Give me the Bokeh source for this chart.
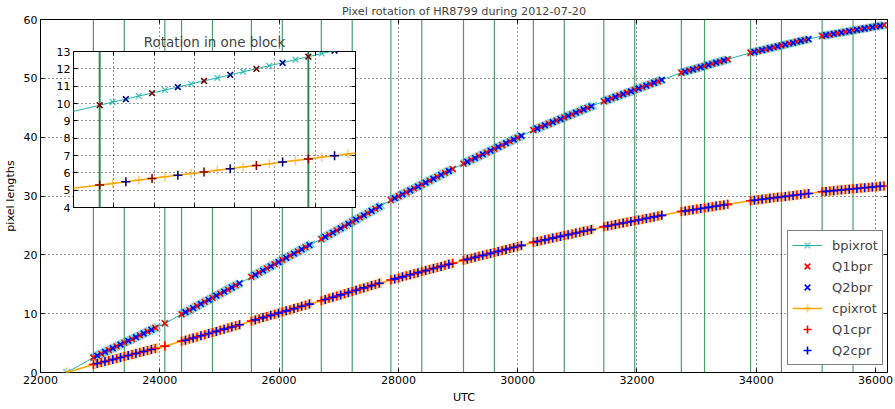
import numpy as np
from bokeh.plotting import figure
from bokeh.models import (Range1d, LinearAxis, SingleIntervalTicker, BasicTickFormatter,
                          Span, Legend, LegendItem, GridBox, Column)
from bokeh.embed import file_html
from bokeh.resources import INLINE

# UTC (seconds) of every frame: first frame, eleven blocks and one single frame
utc = [
    22440,
    22887, 22919, 22952, 22984, 23017, 23049, 23081, 23114, 23146, 23179, 23211, 23243,
    23276, 23308, 23341, 23373, 23405, 23438, 23470, 23503, 23535, 23567, 23600, 23632,
    23665, 23697, 23729, 23762, 23794, 23827, 23859, 23891, 23924, 23956,
    24085,
    24365, 24397, 24430, 24462, 24495, 24527, 24559, 24592, 24624, 24657, 24689, 24721,
    24754, 24786, 24819, 24851, 24883, 24916, 24948, 24981, 25013, 25045, 25078, 25110,
    25143, 25175, 25207, 25240, 25272, 25305, 25337,
    25536, 25568, 25601, 25633, 25666, 25698, 25730, 25763, 25795, 25828, 25860, 25892,
    25925, 25957, 25990, 26022, 26054, 26087, 26119, 26152, 26184, 26216, 26249, 26281,
    26314, 26346, 26378, 26411, 26443, 26476, 26508, 26540,
    26708, 26740, 26773, 26805, 26838, 26870, 26902, 26935, 26967, 27000, 27032, 27064,
    27097, 27129, 27162, 27194, 27226, 27259, 27291, 27324, 27356, 27388, 27421, 27453,
    27486, 27518, 27550, 27583, 27615, 27648, 27680, 27712,
    27874, 27906, 27939, 27971, 28004, 28036, 28068, 28101, 28133, 28166, 28198, 28230,
    28263, 28295, 28328, 28360, 28392, 28425, 28457, 28490, 28522, 28554, 28587, 28619,
    28652, 28684, 28716, 28749, 28781, 28814, 28846, 28878, 28911,
    29091, 29123, 29156, 29188, 29221, 29253, 29285, 29318, 29350, 29383, 29415, 29447,
    29480, 29512, 29545, 29577, 29609, 29642, 29674, 29707, 29739, 29771, 29804, 29836,
    29869, 29901, 29933, 29966, 29998, 30031, 30063,
    30263, 30295, 30328, 30360, 30393, 30425, 30457, 30490, 30522, 30555, 30587, 30619,
    30652, 30684, 30717, 30749, 30781, 30814, 30846, 30879, 30911, 30943, 30976, 31008,
    31041, 31073, 31105, 31138, 31170, 31203, 31235, 31267,
    31444, 31476, 31509, 31541, 31574, 31606, 31638, 31671, 31703, 31736, 31768, 31800,
    31833, 31865, 31898, 31930, 31962, 31995, 32027, 32060, 32092, 32124, 32157, 32189,
    32222, 32254, 32286, 32319, 32351, 32384, 32416,
    32744, 32776, 32809, 32841, 32874, 32906, 32938, 32971, 33003, 33036, 33068, 33100,
    33133, 33165, 33198, 33230, 33262, 33295, 33327, 33360, 33392, 33424, 33457, 33489,
    33522,
    33904, 33936, 33969, 34001, 34034, 34066, 34098, 34131, 34163, 34196, 34228, 34260,
    34293, 34325, 34358, 34390, 34422, 34455, 34487, 34520, 34552, 34584, 34617, 34649,
    34682, 34714, 34746, 34779, 34811, 34844, 34876,
    35104, 35136, 35169, 35201, 35234, 35266, 35298, 35331, 35363, 35396, 35428, 35460,
    35493, 35525, 35558, 35590, 35622, 35655, 35687, 35720, 35752, 35784, 35817, 35849,
    35882, 35914, 35946, 35979, 36011, 36044, 36076, 36108, 36141,
]

# rotation of the b channel, in pixel lengths
bpixrot = [
    0.0,
    2.55, 2.71, 2.86, 3.02, 3.18, 3.34, 3.49, 3.65, 3.81, 3.96, 4.12, 4.28,
    4.43, 4.59, 4.75, 4.91, 5.06, 5.22, 5.38, 5.53, 5.69, 5.85, 6.00, 6.16,
    6.32, 6.48, 6.63, 6.79, 6.95, 7.10, 7.26, 7.42, 7.57, 7.73,
    8.35,
    9.90, 10.08, 10.25, 10.43, 10.60, 10.78, 10.95, 11.13, 11.30, 11.48, 11.65, 11.83,
    12.00, 12.18, 12.35, 12.53, 12.70, 12.88, 13.05, 13.23, 13.40, 13.58, 13.75, 13.93,
    14.10, 14.28, 14.45, 14.63, 14.80, 14.98, 15.15,
    16.25, 16.43, 16.61, 16.79, 16.97, 17.15, 17.33, 17.51, 17.69, 17.87, 18.05, 18.23,
    18.41, 18.59, 18.77, 18.95, 19.13, 19.31, 19.49, 19.67, 19.85, 20.03, 20.21, 20.39,
    20.57, 20.75, 20.93, 21.11, 21.29, 21.47, 21.65, 21.83,
    22.67, 22.85, 23.04, 23.22, 23.41, 23.59, 23.77, 23.96, 24.14, 24.33, 24.51, 24.69,
    24.88, 25.06, 25.25, 25.43, 25.61, 25.80, 25.98, 26.17, 26.35, 26.53, 26.72, 26.90,
    27.09, 27.27, 27.45, 27.64, 27.82, 28.01, 28.19, 28.37,
    29.30, 29.47, 29.63, 29.80, 29.96, 30.13, 30.29, 30.46, 30.62, 30.79, 30.95, 31.12,
    31.28, 31.45, 31.61, 31.78, 31.94, 32.11, 32.27, 32.44, 32.60, 32.77, 32.93, 33.10,
    33.26, 33.43, 33.59, 33.76, 33.92, 34.09, 34.25, 34.42, 34.58,
    35.50, 35.66, 35.82, 35.97, 36.13, 36.29, 36.45, 36.60, 36.76, 36.92, 37.08, 37.23,
    37.39, 37.55, 37.71, 37.86, 38.02, 38.18, 38.34, 38.49, 38.65, 38.81, 38.97, 39.12,
    39.28, 39.44, 39.60, 39.76, 39.91, 40.07, 40.23,
    41.20, 41.33, 41.47, 41.60, 41.74, 41.87, 42.01, 42.14, 42.28, 42.41, 42.55, 42.68,
    42.81, 42.95, 43.08, 43.22, 43.35, 43.49, 43.62, 43.76, 43.89, 44.02, 44.16, 44.29,
    44.43, 44.56, 44.70, 44.83, 44.97, 45.10, 45.24, 45.37,
    46.10, 46.22, 46.34, 46.46, 46.58, 46.71, 46.83, 46.95, 47.07, 47.19, 47.31, 47.43,
    47.55, 47.67, 47.79, 47.92, 48.04, 48.16, 48.28, 48.40, 48.52, 48.64, 48.76, 48.88,
    49.00, 49.13, 49.25, 49.37, 49.49, 49.61, 49.73,
    50.95, 51.05, 51.14, 51.24, 51.33, 51.43, 51.52, 51.62, 51.71, 51.81, 51.90, 52.00,
    52.09, 52.19, 52.28, 52.38, 52.47, 52.57, 52.66, 52.76, 52.85, 52.95, 53.04, 53.14,
    53.23,
    54.35, 54.43, 54.50, 54.58, 54.66, 54.74, 54.81, 54.89, 54.97, 55.04, 55.12, 55.20,
    55.27, 55.35, 55.43, 55.51, 55.58, 55.66, 55.74, 55.81, 55.89, 55.97, 56.04, 56.12,
    56.20, 56.28, 56.35, 56.43, 56.51, 56.58, 56.66,
    57.20, 57.26, 57.32, 57.37, 57.43, 57.49, 57.55, 57.60, 57.66, 57.72, 57.78, 57.83,
    57.89, 57.95, 58.01, 58.07, 58.12, 58.18, 58.24, 58.30, 58.35, 58.41, 58.47, 58.53,
    58.58, 58.64, 58.70, 58.76, 58.82, 58.87, 58.93, 58.99, 59.05,
]

# rotation of the c channel, in pixel lengths
cpixrot = [
    0.0,
    1.37, 1.45, 1.54, 1.62, 1.71, 1.79, 1.88, 1.96, 2.04, 2.13, 2.21, 2.30,
    2.38, 2.47, 2.55, 2.63, 2.72, 2.80, 2.89, 2.97, 3.06, 3.14, 3.22, 3.31,
    3.39, 3.48, 3.56, 3.65, 3.73, 3.81, 3.90, 3.98, 4.07, 4.15,
    4.49,
    5.30, 5.39, 5.49, 5.58, 5.68, 5.77, 5.86, 5.96, 6.05, 6.15, 6.24, 6.33,
    6.43, 6.52, 6.62, 6.71, 6.80, 6.90, 6.99, 7.09, 7.18, 7.27, 7.37, 7.46,
    7.56, 7.65, 7.74, 7.84, 7.93, 8.03, 8.12,
    8.75, 8.85, 8.94, 9.04, 9.13, 9.23, 9.33, 9.42, 9.52, 9.61, 9.71, 9.81,
    9.90, 10.00, 10.09, 10.19, 10.29, 10.38, 10.48, 10.57, 10.67, 10.77, 10.86, 10.96,
    11.05, 11.15, 11.25, 11.34, 11.44, 11.53, 11.63, 11.73,
    12.20, 12.30, 12.40, 12.50, 12.60, 12.70, 12.79, 12.89, 12.99, 13.09, 13.19, 13.29,
    13.39, 13.49, 13.59, 13.69, 13.78, 13.88, 13.98, 14.08, 14.18, 14.28, 14.38, 14.48,
    14.58, 14.68, 14.77, 14.87, 14.97, 15.07, 15.17, 15.27,
    15.73, 15.82, 15.91, 16.00, 16.08, 16.17, 16.26, 16.35, 16.44, 16.53, 16.62, 16.70,
    16.79, 16.88, 16.97, 17.06, 17.15, 17.24, 17.32, 17.41, 17.50, 17.59, 17.68, 17.77,
    17.86, 17.94, 18.03, 18.12, 18.21, 18.30, 18.39, 18.48, 18.57,
    19.06, 19.14, 19.23, 19.31, 19.40, 19.48, 19.57, 19.65, 19.74, 19.82, 19.91, 19.99,
    20.08, 20.16, 20.24, 20.33, 20.41, 20.50, 20.58, 20.67, 20.75, 20.84, 20.92, 21.01,
    21.09, 21.18, 21.26, 21.34, 21.43, 21.51, 21.60,
    22.12, 22.19, 22.26, 22.34, 22.41, 22.48, 22.55, 22.63, 22.70, 22.77, 22.84, 22.91,
    22.99, 23.06, 23.13, 23.20, 23.28, 23.35, 23.42, 23.49, 23.56, 23.64, 23.71, 23.78,
    23.85, 23.93, 24.00, 24.07, 24.14, 24.21, 24.29, 24.36,
    24.76, 24.83, 24.89, 24.96, 25.02, 25.09, 25.15, 25.22, 25.28, 25.35, 25.41, 25.48,
    25.54, 25.61, 25.67, 25.74, 25.80, 25.87, 25.93, 26.00, 26.06, 26.13, 26.19, 26.26,
    26.32, 26.39, 26.45, 26.52, 26.58, 26.65, 26.71,
    27.36, 27.41, 27.46, 27.51, 27.56, 27.62, 27.67, 27.72, 27.77, 27.82, 27.87, 27.92,
    27.97, 28.02, 28.07, 28.13, 28.18, 28.23, 28.28, 28.33, 28.38, 28.43, 28.48, 28.53,
    28.58,
    29.19, 29.23, 29.27, 29.31, 29.36, 29.40, 29.44, 29.48, 29.52, 29.56, 29.60, 29.64,
    29.69, 29.73, 29.77, 29.81, 29.85, 29.89, 29.93, 29.97, 30.02, 30.06, 30.10, 30.14,
    30.18, 30.22, 30.26, 30.31, 30.35, 30.39, 30.43,
    30.72, 30.75, 30.78, 30.81, 30.84, 30.88, 30.91, 30.94, 30.97, 31.00, 31.03, 31.06,
    31.09, 31.12, 31.15, 31.19, 31.22, 31.25, 31.28, 31.31, 31.34, 31.37, 31.40, 31.43,
    31.46, 31.50, 31.53, 31.56, 31.59, 31.62, 31.65, 31.68, 31.71,
]

# quadrant of each frame: 1 = Q1, 2 = Q2, 0 = neither
quadrant = [
    0,
    1, 0, 2, 0, 1, 0, 2, 0, 1, 0, 2, 0,
    1, 0, 2, 0, 1, 0, 2, 0, 1, 0, 2, 0,
    1, 0, 2, 0, 1, 0, 2, 0, 1, 0,
    1,
    1, 0, 2, 0, 1, 0, 2, 0, 1, 0, 2, 0,
    1, 0, 2, 0, 1, 0, 2, 0, 1, 0, 2, 0,
    1, 0, 2, 0, 1, 0, 2,
    1, 0, 2, 0, 1, 0, 2, 0, 1, 0, 2, 0,
    1, 0, 2, 0, 1, 0, 2, 0, 1, 0, 2, 0,
    1, 0, 2, 0, 1, 0, 2, 0,
    1, 0, 2, 0, 1, 0, 2, 0, 1, 0, 2, 0,
    1, 0, 2, 0, 1, 0, 2, 0, 1, 0, 2, 0,
    1, 0, 2, 0, 1, 0, 2, 0,
    1, 0, 2, 0, 1, 0, 2, 0, 1, 0, 2, 0,
    1, 0, 2, 0, 1, 0, 2, 0, 1, 0, 2, 0,
    1, 0, 2, 0, 1, 0, 2, 0, 1,
    1, 0, 2, 0, 1, 0, 2, 0, 1, 0, 2, 0,
    1, 0, 2, 0, 1, 0, 2, 0, 1, 0, 2, 0,
    1, 0, 2, 0, 1, 0, 2,
    1, 0, 2, 0, 1, 0, 2, 0, 1, 0, 2, 0,
    1, 0, 2, 0, 1, 0, 2, 0, 1, 0, 2, 0,
    1, 0, 2, 0, 1, 0, 2, 0,
    1, 0, 2, 0, 1, 0, 2, 0, 1, 0, 2, 0,
    1, 0, 2, 0, 1, 0, 2, 0, 1, 0, 2, 0,
    1, 0, 2, 0, 1, 0, 2,
    1, 0, 2, 0, 1, 0, 2, 0, 1, 0, 2, 0,
    1, 0, 2, 0, 1, 0, 2, 0, 1, 0, 2, 0,
    1,
    1, 0, 2, 0, 1, 0, 2, 0, 1, 0, 2, 0,
    1, 0, 2, 0, 1, 0, 2, 0, 1, 0, 2, 0,
    1, 0, 2, 0, 1, 0, 2,
    1, 0, 2, 0, 1, 0, 2, 0, 1, 0, 2, 0,
    1, 0, 2, 0, 1, 0, 2, 0, 1, 0, 2, 0,
    1, 0, 2, 0, 1, 0, 2, 0, 1,
]

# UTC of the block markers (vertical lines)
block_marks = [22887, 23405, 24085, 24365, 24883, 25536, 26054, 26708, 27226, 27874, 28392,
               29091, 29609, 30263, 30781, 31444, 31962, 32744, 33133, 33904, 34422, 35104,
               35622]

FONT = "DejaVu Sans"
TEAL = "#20b2aa"
ORANGE = "#ffa500"
GREEN = "#2e8b57"
W, H = 895, 409

t = np.asarray(utc, dtype=float)
b = np.asarray(bpixrot, dtype=float)
c = np.asarray(cpixrot, dtype=float)
q = np.asarray(quadrant)
m1 = q == 1
m2 = q == 2


def hide_labels(ax):
    ax.major_label_text_font_size = "1px"
    ax.major_label_text_color = None
    ax.major_label_standoff = 0


def frame_axes(fig, x_interval, y_interval, x_labels=True):
    """Boxed axes with inward ticks on all four sides and a dotted grid."""
    xt = SingleIntervalTicker(interval=x_interval, num_minor_ticks=0)
    yt = SingleIntervalTicker(interval=y_interval, num_minor_ticks=0)
    for ax, tk in ((fig.xaxis[0], xt), (fig.yaxis[0], yt)):
        ax.ticker = tk
        ax.formatter = BasicTickFormatter(use_scientific=False)
        ax.axis_line_color = None
        ax.major_tick_in = 4
        ax.major_tick_out = 0
        ax.major_tick_line_color = "black"
        ax.minor_tick_line_color = None
        ax.major_label_text_font = FONT
        ax.major_label_text_font_size = "11px"
        ax.major_label_text_color = "black"
        ax.major_label_standoff = 3
        ax.axis_label_text_font = FONT
        ax.axis_label_text_font_style = "normal"
        ax.axis_label_text_font_size = "11.2px"
        ax.axis_label_text_color = "black"
        ax.axis_label_standoff = 4
    if not x_labels:
        hide_labels(fig.xaxis[0])
    for loc, tk in (("above", xt), ("right", yt)):
        side = LinearAxis(ticker=tk, major_tick_in=4, major_tick_out=0, axis_line_color=None,
                          minor_tick_line_color=None)
        hide_labels(side)
        fig.add_layout(side, loc)
    fig.xgrid.ticker = xt
    fig.ygrid.ticker = yt
    fig.grid.grid_line_color = "black"
    fig.grid.grid_line_dash = "1 3"
    fig.grid.grid_line_alpha = 0.85
    fig.outline_line_color = "black"
    fig.outline_line_alpha = 1.0
    fig.outline_line_width = 1


# ---------------- main plot ----------------
p = figure(width=W, height=H, x_range=Range1d(22000, 36200), y_range=Range1d(0, 60),
           output_backend="svg", toolbar_location=None,
           min_border_left=38, min_border_right=8, min_border_top=19, min_border_bottom=37,
           x_axis_label="UTC", y_axis_label="pixel lengths")
p.title.text = "Pixel rotation of HR8799 during 2012-07-20"
p.title.align = "center"
p.title.text_font = FONT
p.title.text_font_size = "11.2px"
p.title.text_font_style = "normal"
p.title.standoff = 4
p.background_fill_color = "white"
p.border_fill_color = "white"
frame_axes(p, 2000, 10)

for x in block_marks:
    p.add_layout(Span(location=x, dimension="height", line_color=GREEN,
                      line_width=1.2, line_alpha=0.85, level="underlay"))

b_line = p.line(t, b, line_color=TEAL, line_width=1)
b_pts = p.scatter(t, b, marker="x", size=10, line_color=TEAL, line_alpha=0.55, line_width=1.8)
q1b = p.scatter(t[m1], b[m1], marker="x", size=8, line_color="red", line_width=1.6)
q2b = p.scatter(t[m2], b[m2], marker="x", size=8, line_color="blue", line_width=1.6)
c_line = p.line(t, c, line_color=ORANGE, line_width=1.5)
c_pts = p.scatter(t, c, marker="cross", size=10, line_color=ORANGE, line_alpha=0.5, line_width=2)
q1c = p.scatter(t[m1], c[m1], marker="cross", size=9, line_color="red", line_width=1.6)
q2c = p.scatter(t[m2], c[m2], marker="cross", size=9, line_color="blue", line_width=1.6)

legend = Legend(items=[
    LegendItem(label="bpixrot", renderers=[b_line, b_pts]),
    LegendItem(label="Q1bpr", renderers=[q1b]),
    LegendItem(label="Q2bpr", renderers=[q2b]),
    LegendItem(label="cpixrot", renderers=[c_line, c_pts]),
    LegendItem(label="Q1cpr", renderers=[q1c]),
    LegendItem(label="Q2cpr", renderers=[q2c]),
], location=(747, 7), margin=0, padding=4, spacing=1, glyph_width=30, glyph_height=20,
    label_height=20, label_standoff=10, label_text_font=FONT, label_text_font_size="13px",
    border_line_color="black", border_line_width=1, background_fill_alpha=1.0)
p.add_layout(legend)

# ---------------- inset: one block ----------------
# same canvas size as the main plot; the borders place its frame in the upper left
ins = figure(width=W, height=H, x_range=Range1d(24300, 25000), y_range=Range1d(4, 13),
             output_backend="svg", toolbar_location=None,
             min_border_left=73, min_border_right=540, min_border_top=51, min_border_bottom=202)
ins.title.text = "Rotation in one block"
ins.title.align = "center"
ins.title.text_font = FONT
ins.title.text_font_size = "13.4px"
ins.title.text_font_style = "normal"
ins.title.standoff = 4
ins.background_fill_color = "white"
ins.border_fill_color = None
ins.border_fill_alpha = 0
frame_axes(ins, 100, 1, x_labels=False)

for x in block_marks:
    ins.add_layout(Span(location=x, dimension="height", line_color=GREEN,
                        line_width=2, level="underlay"))

ins.line(t, b, line_color=TEAL, line_width=1)
ins.scatter(t, b, marker="x", size=8, line_color=TEAL, line_alpha=0.8, line_width=1.3)
ins.scatter(t[m1], b[m1], marker="x", size=8, line_color="darkred", line_width=1.5)
ins.scatter(t[m2], b[m2], marker="x", size=8, line_color="darkblue", line_width=1.5)
ins.line(t, c, line_color=ORANGE, line_width=1.5)
ins.scatter(t, c, marker="cross", size=9, line_color=ORANGE, line_alpha=0.6, line_width=1.5)
ins.scatter(t[m1], c[m1], marker="cross", size=9, line_color="darkred", line_width=1.5)
ins.scatter(t[m2], c[m2], marker="cross", size=9, line_color="darkblue", line_width=1.5)

# each figure in its own column so that the two frames are laid out independently
main_box = Column(children=[p], width=W, height=H)
inset_box = Column(children=[ins], width=W, height=H)
layout = GridBox(children=[(main_box, 0, 0), (inset_box, 0, 0)], width=W, height=H)

open("out.html", "w").write(file_html(layout, INLINE))
